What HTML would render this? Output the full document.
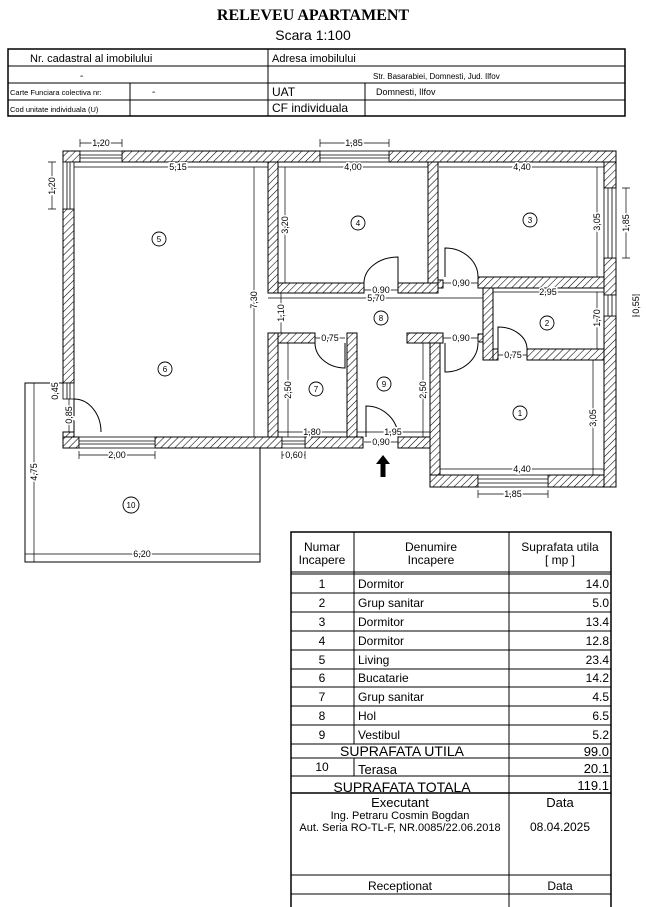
<!DOCTYPE html>
<html><head><meta charset="utf-8"><style>
html,body{margin:0;padding:0;background:#fff;}
svg{display:block;}
text{font-family:"Liberation Sans",sans-serif;}
.d{font-size:9px;stroke:#fff;stroke-width:3;paint-order:stroke;fill:#000;}
.w{fill:url(#h);stroke:#000;stroke-width:1;}
.dl{stroke:#000;stroke-width:0.7;fill:none;}
.t{font-size:12px;}
</style></head><body>
<svg width="646" height="907" viewBox="0 0 646 907" xmlns="http://www.w3.org/2000/svg">
<defs>
<pattern id="h" width="5" height="5" patternUnits="userSpaceOnUse" patternTransform="rotate(45)">
<rect width="5" height="5" fill="#fff"/><line x1="0" y1="0" x2="0" y2="5" stroke="#000" stroke-width="1.1"/>
</pattern>
</defs>
<!-- title -->
<text x="313" y="20" text-anchor="middle" style="font-family:'Liberation Serif',serif;font-weight:bold;font-size:16px">RELEVEU APARTAMENT</text>
<text x="313" y="40" text-anchor="middle" font-size="14">Scara 1:100</text>
<!-- header table -->
<g stroke="#000" fill="none">
<rect x="8" y="49" width="617" height="67" stroke-width="1.5"/>
<line x1="8" y1="66" x2="625" y2="66"/><line x1="8" y1="83" x2="625" y2="83"/><line x1="8" y1="100" x2="625" y2="100"/>
<line x1="268" y1="49" x2="268" y2="116"/><line x1="130" y1="83" x2="130" y2="116"/><line x1="365" y1="83" x2="365" y2="116"/>
</g>
<text x="30" y="62" font-size="11">Nr. cadastral al imobilului</text>
<text x="272" y="62" font-size="11">Adresa imobilului</text>
<text x="80" y="79" font-size="10">-</text>
<text x="373" y="79" font-size="8">Str. Basarabiei, Domnesti, Jud. Ilfov</text>
<text x="10" y="95" font-size="7.5">Carte Funciara colectiva nr:</text>
<text x="152" y="95" font-size="10">-</text>
<text x="272" y="96" font-size="12">UAT</text>
<text x="376" y="95" font-size="9">Domnesti, Ilfov</text>
<text x="10" y="112" font-size="7.5">Cod unitate individuala (U)</text>
<text x="272" y="112" font-size="12">CF individuala</text>

<!-- terrace -->
<polyline points="63,383 25,383 25,562 260,562 260,448" fill="none" stroke="#000" stroke-width="1"/>

<!-- walls -->
<g class="w">
<rect x="63" y="151" width="17" height="11"/>
<rect x="122" y="151" width="198" height="11"/>
<rect x="389" y="151" width="227" height="11"/>
<rect x="63" y="209" width="11" height="174"/>
<rect x="63" y="432" width="11" height="16"/>
<rect x="63" y="437" width="16" height="11"/>
<rect x="155" y="437" width="127" height="11"/>
<rect x="305" y="437" width="58" height="11"/>
<rect x="398" y="437" width="42" height="11"/>
<rect x="268" y="162" width="10" height="131"/>
<rect x="278" y="283" width="86" height="10"/>
<rect x="398" y="283" width="40" height="10"/>
<rect x="438" y="280" width="5" height="8"/>
<rect x="428" y="162" width="10" height="121"/>
<rect x="478" y="277" width="126" height="11"/>
<rect x="483" y="288" width="10" height="72"/>
<rect x="478" y="334" width="5" height="8"/>
<rect x="493" y="349" width="5" height="11"/>
<rect x="527" y="349" width="77" height="11"/>
<rect x="604" y="162" width="12" height="26"/>
<rect x="604" y="258" width="12" height="37"/>
<rect x="604" y="316" width="12" height="171"/>
<rect x="430" y="475" width="48" height="12"/>
<rect x="548" y="475" width="56" height="12"/>
<rect x="430" y="343" width="10" height="132"/>
<rect x="407" y="333" width="36" height="10"/>
<rect x="268" y="333" width="10" height="104"/>
<rect x="278" y="333" width="37" height="10"/>
<rect x="347" y="333" width="10" height="104"/>
</g>
<!-- windows -->
<g stroke="#000" stroke-width="0.8" fill="#fff">
<rect x="80" y="151" width="42" height="11"/><line x1="80" y1="155" x2="122" y2="155"/><line x1="80" y1="158" x2="122" y2="158"/>
<rect x="320" y="151" width="69" height="11"/><line x1="320" y1="155" x2="389" y2="155"/><line x1="320" y1="158" x2="389" y2="158"/>
<rect x="63" y="162" width="11" height="47"/><line x1="67" y1="162" x2="67" y2="209"/><line x1="70" y1="162" x2="70" y2="209"/>
<rect x="63" y="383" width="11" height="16"/><line x1="67" y1="383" x2="67" y2="399"/><line x1="70" y1="383" x2="70" y2="399"/>
<rect x="79" y="437" width="76" height="11"/><line x1="79" y1="441" x2="155" y2="441"/><line x1="79" y1="444" x2="155" y2="444"/>
<rect x="282" y="437" width="23" height="11"/><line x1="282" y1="441" x2="305" y2="441"/><line x1="282" y1="444" x2="305" y2="444"/>
<rect x="604" y="188" width="12" height="70"/><line x1="608" y1="188" x2="608" y2="258"/><line x1="612" y1="188" x2="612" y2="258"/>
<rect x="604" y="295" width="12" height="21"/><line x1="608" y1="295" x2="608" y2="316"/><line x1="612" y1="295" x2="612" y2="316"/>
<rect x="478" y="475" width="70" height="12"/><line x1="478" y1="479" x2="548" y2="479"/><line x1="478" y1="483" x2="548" y2="483"/>
</g>
<!-- doors -->
<g stroke="#000" stroke-width="1" fill="none">
<path d="M74,399 L74,432 M74,399 A27,33 0 0 1 101,432"/>
<path d="M398,283 L398,257 A34,26 0 0 0 364,283"/>
<path d="M445,277 L445,248 A33,29 0 0 1 478,277"/>
<path d="M345,343 L345,368 A30,25 0 0 1 315,343"/>
<path d="M445,343 L445,372 A33,29 0 0 0 478,343"/>
<path d="M498,349 L498,327 A29,22 0 0 1 527,349"/>
<path d="M366,437 L366,406 A32,31 0 0 1 398,437"/>
</g>
<!-- entrance arrow -->
<path d="M383,455 L376,464 L380.5,464 L380.5,477 L385.5,477 L385.5,464 L390,464 Z" fill="#000"/>

<!-- dimension lines -->
<g class="dl">
<path d="M80,143H122M80,139V147M122,139V147"/>
<path d="M320,143H389M320,139V147M389,139V147"/>
<path d="M74,167H268M428,167H278M439,167H604"/>
<path d="M52,162V209M48,162H56M48,209H56"/>
<path d="M254,167V437"/>
<path d="M285,167V283"/>
<path d="M597,167V277"/>
<path d="M626,188V258M622,188H630M622,258H630"/>
<path d="M268,298H483"/>
<path d="M281,293V333"/>
<path d="M493,292H604"/>
<path d="M597,292V349"/>
<path d="M636,295V316M632,295H640M632,316H640"/>
<path d="M288,343V437"/>
<path d="M423,343V437"/>
<path d="M278,432H347M357,432H430"/>
<path d="M593,360V475"/>
<path d="M440,469H604"/>
<path d="M478,494H548M478,490V498M548,490V498"/>
<path d="M282,455H305M282,451V459M305,451V459"/>
<path d="M79,455H155M79,451V459M155,451V459"/>
<path d="M34,383V562"/>
<path d="M25,554H260"/>
<path d="M55,383V399"/>
<path d="M69,399V432"/>
<path d="M364,442H398M443,283H478M443,338H478M315,338H345M498,355H527M364,290H398"/>
</g>
<g class="d" text-anchor="middle">
<text x="101" y="146">1,20</text>
<text x="354" y="146">1,85</text>
<text x="178" y="170">5,15</text>
<text x="353" y="170">4,00</text>
<text x="522" y="170">4,40</text>
<text x="381" y="293">0,90</text>
<text x="461" y="286">0,90</text>
<text x="376" y="301">5,70</text>
<text x="548" y="295">2,95</text>
<text x="330" y="341">0,75</text>
<text x="461" y="341">0,90</text>
<text x="513" y="358">0,75</text>
<text x="312" y="435">1,80</text>
<text x="393" y="435">1,95</text>
<text x="381" y="445">0,90</text>
<text x="522" y="472">4,40</text>
<text x="513" y="497">1,85</text>
<text x="294" y="458">0,60</text>
<text x="117" y="458">2,00</text>
<text x="142" y="557">6,20</text>
<text transform="translate(55,186) rotate(-90)">1,20</text>
<text transform="translate(257,300) rotate(-90)">7,30</text>
<text transform="translate(288,225) rotate(-90)">3,20</text>
<text transform="translate(600,222) rotate(-90)">3,05</text>
<text transform="translate(629,223) rotate(-90)">1,85</text>
<text transform="translate(284,313) rotate(-90)">1,10</text>
<text transform="translate(600,318) rotate(-90)">1,70</text>
<text transform="translate(639,305) rotate(-90)">0,55</text>
<text transform="translate(291,390) rotate(-90)">2,50</text>
<text transform="translate(426,390) rotate(-90)">2,50</text>
<text transform="translate(596,418) rotate(-90)">3,05</text>
<text transform="translate(37,472) rotate(-90)">4,75</text>
<text transform="translate(58,391) rotate(-90)">0,45</text>
<text transform="translate(72,415) rotate(-90)">0,85</text>
</g>
<!-- room labels -->
<g font-size="8" text-anchor="middle">
<g fill="none" stroke="#000" stroke-width="0.9">
<circle cx="159" cy="239" r="7"/><circle cx="165" cy="369" r="7"/><circle cx="358" cy="223" r="7"/>
<circle cx="530" cy="220" r="7"/><circle cx="381" cy="318" r="7"/><circle cx="547" cy="323" r="7"/>
<circle cx="316" cy="389" r="7"/><circle cx="384" cy="384" r="7"/><circle cx="520" cy="413" r="7"/>
<circle cx="131" cy="505" r="8"/>
</g>
<text x="159" y="242">5</text><text x="165" y="372">6</text><text x="358" y="226">4</text>
<text x="530" y="223">3</text><text x="381" y="321">8</text><text x="547" y="326">2</text>
<text x="316" y="392">7</text><text x="384" y="387">9</text><text x="520" y="416">1</text>
<text x="131" y="508">10</text>
</g>

<!-- area table -->
<g stroke="#000" fill="none" stroke-width="1">
<rect x="291" y="532" width="320" height="380" stroke-width="1.5"/>
<line x1="291" y1="572" x2="611" y2="572"/><line x1="291" y1="574" x2="611" y2="574"/>
<line x1="291" y1="593" x2="611" y2="593"/><line x1="291" y1="612" x2="611" y2="612"/>
<line x1="291" y1="631" x2="611" y2="631"/><line x1="291" y1="650" x2="611" y2="650"/>
<line x1="291" y1="669" x2="611" y2="669"/><line x1="291" y1="687" x2="611" y2="687"/>
<line x1="291" y1="706" x2="611" y2="706"/><line x1="291" y1="725" x2="611" y2="725"/>
<line x1="291" y1="744" x2="611" y2="744"/><line x1="291" y1="758" x2="611" y2="758"/>
<line x1="291" y1="776" x2="611" y2="776"/><line x1="291" y1="793" x2="611" y2="793" stroke-width="1.5"/>
<line x1="291" y1="875" x2="611" y2="875"/><line x1="291" y1="894" x2="611" y2="894"/>
<line x1="354" y1="532" x2="354" y2="744"/><line x1="354" y1="758" x2="354" y2="776"/>
<line x1="509" y1="532" x2="509" y2="907"/>
</g>
<g class="t" text-anchor="middle">
<text x="322" y="551">Numar</text><text x="322" y="564">Incapere</text>
<text x="431" y="551">Denumire</text><text x="431" y="564">Incapere</text>
<text x="560" y="551">Suprafata utila</text><text x="560" y="564">[ mp ]</text>
<text x="322" y="588">1</text><text x="322" y="607">2</text><text x="322" y="626">3</text>
<text x="322" y="645">4</text><text x="322" y="664">5</text><text x="322" y="682">6</text>
<text x="322" y="701">7</text><text x="322" y="720">8</text><text x="322" y="739">9</text>
<text x="402" y="756" font-size="14">SUPRAFATA UTILA</text>
<text x="322" y="771">10</text>
<text x="402" y="792" font-size="14">SUPRAFATA TOTALA</text>
<text x="400" y="807" font-size="13">Executant</text>
<text x="400" y="819" font-size="11">Ing. Petraru Cosmin Bogdan</text>
<text x="400" y="831" font-size="11">Aut. Seria RO-TL-F,  NR.0085/22.06.2018</text>
<text x="560" y="807" font-size="13">Data</text>
<text x="560" y="831" font-size="12">08.04.2025</text>
<text x="400" y="890" font-size="12">Receptionat</text>
<text x="560" y="890" font-size="12">Data</text>
</g>
<g class="t">
<text x="358" y="588">Dormitor</text><text x="358" y="607">Grup sanitar</text><text x="358" y="626">Dormitor</text>
<text x="358" y="645">Dormitor</text><text x="358" y="664">Living</text><text x="358" y="682">Bucatarie</text>
<text x="358" y="701">Grup sanitar</text><text x="358" y="720">Hol</text><text x="358" y="739">Vestibul</text>
<text x="358" y="774" font-size="13">Terasa</text>
</g>
<g class="t" text-anchor="end">
<text x="609" y="588">14.0</text><text x="609" y="607">5.0</text><text x="609" y="626">13.4</text>
<text x="609" y="645">12.8</text><text x="609" y="664">23.4</text><text x="609" y="682">14.2</text>
<text x="609" y="701">4.5</text><text x="609" y="720">6.5</text><text x="609" y="739">5.2</text>
<text x="609" y="756" font-size="13">99.0</text><text x="609" y="773" font-size="13">20.1</text>
<text x="609" y="790" font-size="13">119.1</text>
</g>
</svg>
</body></html>
